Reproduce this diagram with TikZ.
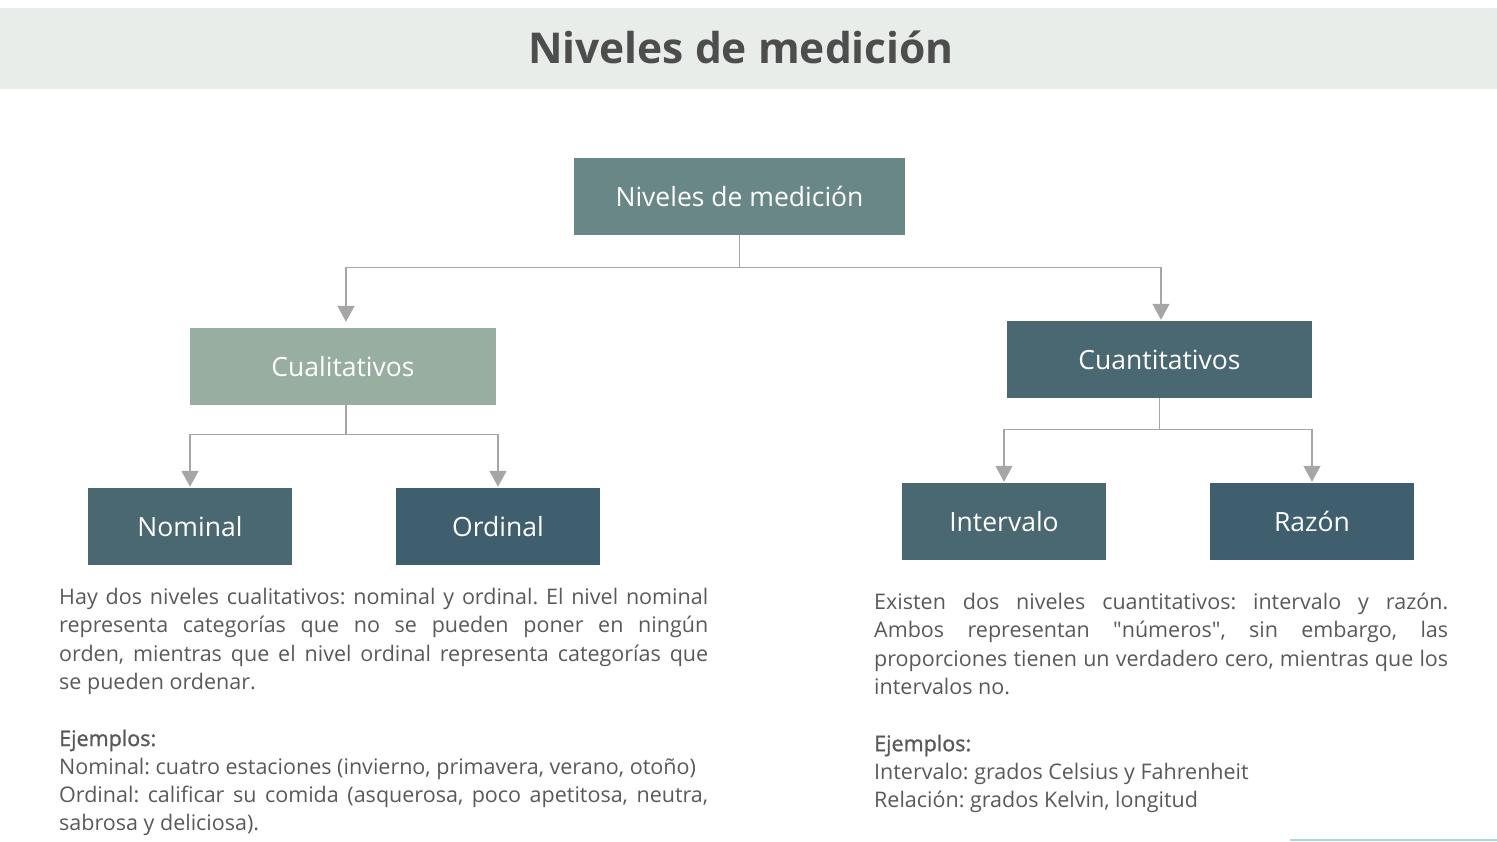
\documentclass[tikz,border=0pt]{standalone}
\usepackage{fontspec}
\setmainfont{Open Sans}
\newfontfamily\semib[FakeBold=1.3]{Open Sans}
\usetikzlibrary{arrows.meta, positioning}
\definecolor{bandgray}{HTML}{E8EDEA}
\definecolor{titlegray}{HTML}{4D4D4D}
\definecolor{rootteal}{HTML}{6A8787}
\definecolor{sage}{HTML}{97AEA0}
\definecolor{slate}{HTML}{4A6872}
\definecolor{deepslate}{HTML}{3F5F6E}
\definecolor{conngray}{HTML}{A6A6A6}
\definecolor{bodygray}{HTML}{595959}
\definecolor{faintteal}{HTML}{A8D8DA}
\newcommand{\straightquote}{\XeTeXglyph\XeTeXcharglyph"22\relax}
\tikzset{levelbox/.style={rectangle, inner sep=0pt, minimum height=77pt, text=white,
        font=\fontsize{26.5}{32}\selectfont},
    conn/.style={draw=conngray, line width=1.4pt,
        -{Triangle[length=16pt,width=17pt]}},
    bodytext/.style={anchor=north west, inner sep=0pt, align=justify, text=bodygray,
        font=\fontsize{21.5}{28.3}\selectfont}}

\begin{document}
\frenchspacing
\begin{tikzpicture}[x=1pt, y=-1pt]
    \useasboundingbox (0,0) rectangle (1497,841);
    % Title band
    \fill[bandgray] (0,8) rectangle (1497,89);
    \node[text=titlegray, font=\fontsize{42.5}{48}\bfseries] (title) at (741,47) {Niveles de medición};

    % Level boxes
    \node[levelbox, fill=rootteal, minimum width=331pt] (niveles) at (739.5,196.5) {Niveles de medición};
    \node[levelbox, fill=sage, minimum width=306pt] (cualit) at (343,366.5) {Cualitativos};
    \node[levelbox, fill=slate, minimum width=305pt] (cuantit) at (1159.5,359.5) {Cuantitativos};
    \node[levelbox, fill=slate, minimum width=204pt] (nominal) at (190,526.5) {Nominal};
    \node[levelbox, fill=deepslate, minimum width=204pt] (ordinal) at (498,526.5) {Ordinal};
    \node[levelbox, fill=slate, minimum width=204pt] (intervalo) at (1004,521.5) {Intervalo};
    \node[levelbox, fill=deepslate, minimum width=204pt] (razon) at (1312,521.5) {Razón};

    % Connectors
    \draw[conn, shorten >=6pt] (niveles.south) -- ++(0,32) -| ([xshift=3pt]cualit.north);
    \draw[conn, shorten >=1pt] (niveles.south) -- ++(0,32) -| ([xshift=1.5pt]cuantit.north);
    \draw[conn, shorten >=1pt] ([xshift=3pt]cualit.south) -- ++(0,29) -| (nominal.north);
    \draw[conn, shorten >=1pt] ([xshift=3pt]cualit.south) -- ++(0,29) -| (ordinal.north);
    \draw[conn, shorten >=1pt] (cuantit.south) -- ++(0,31) -| (intervalo.north);
    \draw[conn, shorten >=1pt] (cuantit.south) -- ++(0,31) -| (razon.north);

    % Descriptions
    \node[bodytext, text width=649pt] (desccual) at (59,588) {\hbadness=10000\parskip=0pt
        Hay dos niveles cualitativos: nominal y ordinal. El nivel nominal\linebreak
        representa categorías que no se pueden poner en ningún\linebreak
        orden, mientras que el nivel ordinal representa categorías que\linebreak
        se pueden ordenar.\par\vspace*{28.3pt}
        {\semib Ejemplos:}\par
        Nominal: cuatro estaciones (invierno, primavera, verano, otoño)\par
        Ordinal: calificar su comida (asquerosa, poco apetitosa, neutra,\linebreak
        sabrosa y deliciosa).};
    \node[bodytext, text width=574pt] (desccuan) at (874,593) {\hbadness=10000\parskip=0pt
        Existen dos niveles cuantitativos: intervalo y razón.\linebreak
        Ambos representan \straightquote números\straightquote, sin embargo, las\linebreak
        proporciones tienen un verdadero cero, mientras que los\linebreak
        intervalos no.\par\vspace*{28.3pt}
        {\semib Ejemplos:}\par
        Intervalo: grados Celsius y Fahrenheit\par
        Relación: grados Kelvin, longitud};

    \draw[faintteal, line width=1.5pt] (1290,840) -- (1497,840);
\end{tikzpicture}
\end{document}
